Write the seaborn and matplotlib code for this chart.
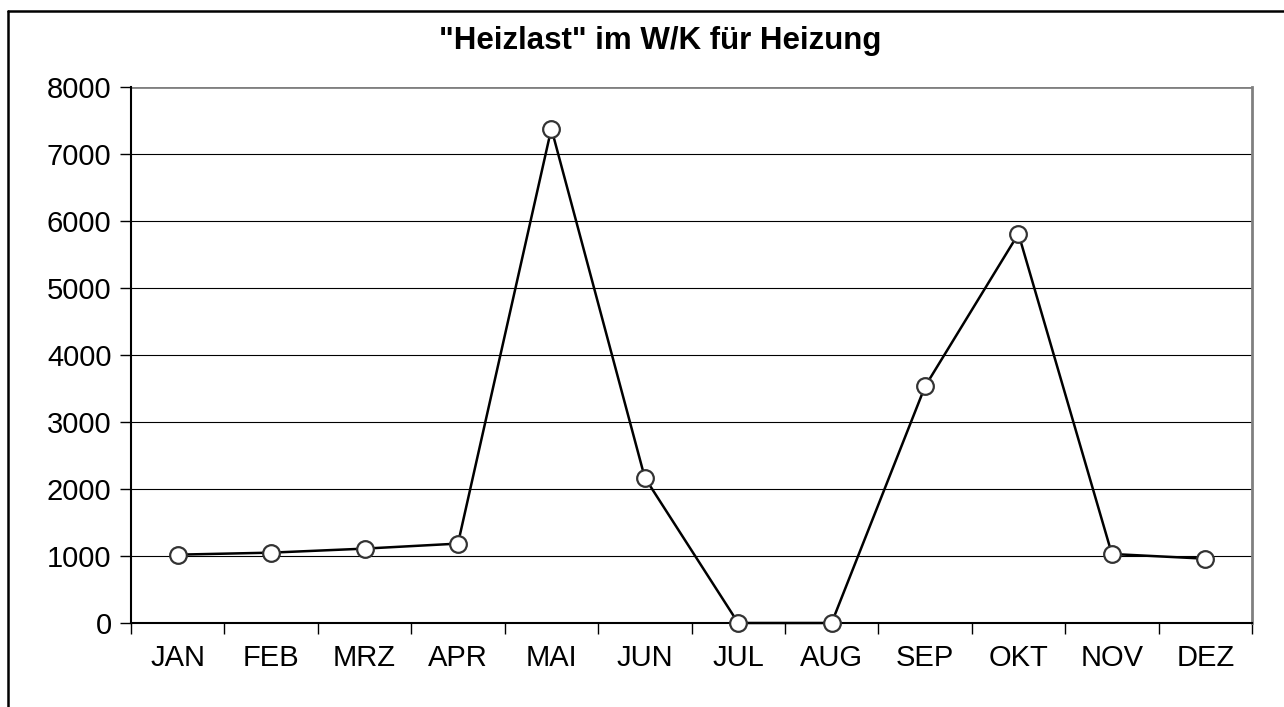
import matplotlib
matplotlib.use("Agg")
import matplotlib.pyplot as plt
import seaborn as sns
import pandas as pd
from matplotlib.lines import Line2D
from matplotlib.ticker import FixedLocator

# Monthly "Heizlast" values (W/K)
months = ["JAN", "FEB", "MRZ", "APR", "MAI", "JUN",
          "JUL", "AUG", "SEP", "OKT", "NOV", "DEZ"]
heizlast = [1020, 1050, 1110, 1185, 7380, 2170,
            0, 0, 3530, 5810, 1030, 960]
y_ticks = [0, 1000, 2000, 3000, 4000, 5000, 6000, 7000, 8000]

sns.set_style("white")
plt.rcParams["font.family"] = ["Liberation Sans", "DejaVu Sans"]
plt.rcParams["text.color"] = "black"
plt.rcParams["xtick.color"] = "black"
plt.rcParams["ytick.color"] = "black"
plt.rcParams["xtick.labelcolor"] = "black"
plt.rcParams["ytick.labelcolor"] = "black"

df = pd.DataFrame({"Monat": months, "Heizlast": heizlast})
df["pos"] = range(len(months))

fig = plt.figure(figsize=(12.84, 7.07), dpi=100)
ax = fig.add_axes([131 / 1284, 1 - 623 / 707, (1252 - 131) / 1284, (623 - 87) / 707])

# horizontal grid
for v in y_ticks[1:-1]:
    ax.axhline(v, color="black", lw=0.8, zorder=1)
ax.axhline(8000, color="#808080", lw=2, zorder=1)

sns.lineplot(data=df, x="pos", y="Heizlast", sort=False, ax=ax,
             color="black", lw=1.8, marker="o", markersize=12,
             markerfacecolor="white", markeredgecolor="#333333",
             markeredgewidth=1.6, zorder=3, clip_on=False)

ax.set_xlim(-0.5, len(months) - 0.5)
ax.set_ylim(0, 8000)
ax.set_yticks(y_ticks)
ax.set_yticklabels([str(v) for v in y_ticks], fontsize=21, color="black")
ax.set_xticks(range(len(months)))
ax.set_xticklabels(months, fontsize=21, color="black")
ax.xaxis.set_minor_locator(FixedLocator([i - 0.5 for i in range(len(months) + 1)]))
ax.tick_params(axis="x", which="major", length=0, pad=15)
ax.tick_params(axis="x", which="minor", length=8, width=1, color="black", direction="out", bottom=True)
ax.tick_params(axis="y", which="major", length=8, width=1, color="black", direction="out", pad=6, left=True)

ax.set_xlabel("")
ax.set_ylabel("")

for side in ["left", "bottom"]:
    ax.spines[side].set_color("black")
    ax.spines[side].set_linewidth(1.5)
ax.spines["right"].set_color("#808080")
ax.spines["right"].set_linewidth(2)
ax.spines["top"].set_visible(False)

fig.text(660 / 1284, 1 - 41 / 707, '"Heizlast" im W/K für Heizung', ha="center", va="center",
         fontsize=22.5, fontweight="bold", color="black")

# outer chart frame (runs off the right and bottom edges)
fx = 8 / 1284
fy = 1 - 11 / 707
fig.add_artist(Line2D([fx, fx], [0, fy], color="black", lw=1.8, transform=fig.transFigure))
fig.add_artist(Line2D([fx, 1], [fy, fy], color="black", lw=1.8, transform=fig.transFigure))

fig.savefig("out.png", dpi=100)
